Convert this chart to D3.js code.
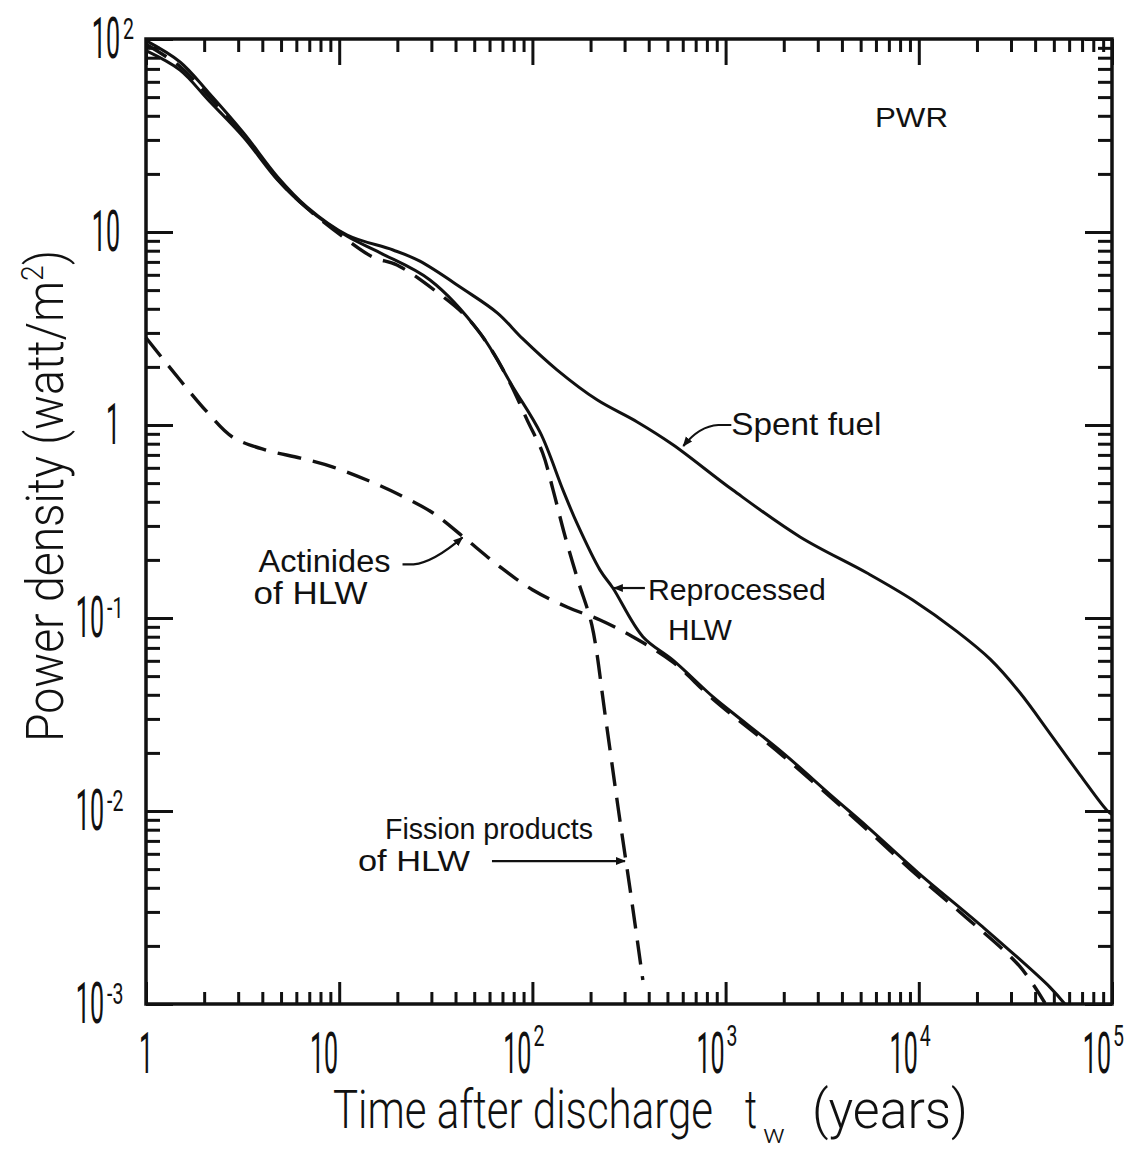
<!DOCTYPE html>
<html>
<head>
<meta charset="utf-8">
<script src="https://cdn.jsdelivr.net/npm/d3@7/dist/d3.min.js"></script>
<style>
	html, body { margin: 0; padding: 0; background: #fff; }
	svg { display: block; }
	text { font-family: 'Liberation Sans', Arial, sans-serif; fill: #111; }
	text.lettering { font-family: Roboto, 'Liberation Sans', sans-serif; font-weight: 300; }
	text.digits { font-family: Roboto, 'Liberation Sans', sans-serif; font-weight: 400; }
</style>
</head>
<body>
<svg id="chart" width="1126" height="1151"></svg>
<script>
// values: time after discharge (years) -> power density (watt/m2)
var spentT = [ 1, 1.5, 2.1, 3.2, 4.8, 6.8, 11, 19, 26, 44, 66, 89, 134, 216, 347, 534, 1090, 2430, 5400, 9300, 15800, 23400, 33400, 47800, 68300, 94000, 100000 ];
var spentP = [ 98, 76, 53, 32.6, 19.3, 13.5, 9.65, 8.07, 7.08, 5.05, 3.8, 2.8, 1.93, 1.35, 1.04, 0.79, 0.46, 0.263, 0.171, 0.124, 0.085, 0.0612, 0.041, 0.0252, 0.0154, 0.0101, 0.0096 ];

var hlwT = [ 1, 1.5, 2.1, 3.2, 4.8, 6.8, 11, 16.3, 29.5, 53.5, 79.4, 110, 144, 170, 224, 261, 373, 534, 861, 1090, 1980, 3600, 5400, 9900, 21500, 47800, 57000 ];
var hlwP = [ 87, 69, 48.3, 31, 18.6, 13.3, 9.5, 7.8, 5.64, 3.0, 1.57, 0.91, 0.46, 0.31, 0.177, 0.143, 0.08, 0.0605, 0.039, 0.0322, 0.02, 0.0118, 0.0083, 0.0048, 0.0025, 0.00122, 0.001 ];

var actT = [ 1, 1.5, 2.1, 2.8, 4.2, 6.3, 9.3, 13.9, 20.6, 30.6, 45.8, 68, 100, 151, 224, 332, 534, 861, 1980, 5400, 9900, 16300, 33400, 45000 ];
var actP = [ 2.83, 1.71, 1.15, 0.867, 0.74, 0.674, 0.605, 0.519, 0.434, 0.35, 0.254, 0.184, 0.14, 0.114, 0.0977, 0.0798, 0.059, 0.038, 0.0193, 0.008, 0.0046, 0.003, 0.00156, 0.00101 ];

var fpT = [ 1, 1.5, 2.1, 3.2, 4.8, 6.8, 11, 15, 19.9, 32, 45.6, 60, 76.6, 94, 113, 128, 147, 172, 203, 238, 277, 324, 373 ];
var fpP = [ 94, 72, 50.7, 31.8, 18.8, 13.3, 9.1, 7.4, 6.75, 4.89, 3.63, 2.54, 1.65, 1.06, 0.716, 0.46, 0.269, 0.157, 0.092, 0.0314, 0.0106, 0.00363, 0.00133 ];

// tick labels
var xTickVals = [ 1, 10, 100, 1000, 10000, 100000 ];
var xTickBase = [ '1', '10', '10', '10', '10', '10' ];
var xTickExp  = [ '', '', '2', '3', '4', '5' ];
var yTickVals = [ 100, 10, 1, 0.1, 0.01, 0.001 ];
var yTickBase = [ '10', '10', '1', '10', '10', '10' ];
var yTickExp  = [ '2', '', '', '-1', '-2', '-3' ];

var plotL = 146, plotR = 1112, plotT = 39, plotB = 1004;

var svg = d3.select( '#chart' );

var x = d3.scaleLog().domain( [ 1, 1e5 ] ).range( [ plotL, plotR ] );
var y = d3.scaleLog().domain( [ 1e-3, 1e2 ] ).range( [ plotB, plotT ] );

function minorTicks( lo, hi ) {
	var out = [];
	for ( var e = lo; e < hi; e ++ ) {
		for ( var k = 2; k <= 9; k ++ ) out.push( +( k * Math.pow( 10, e ) ).toPrecision( 3 ) );
	}
	return out;
}

function tickAxis( axis, vals, len, tr ) {
	var g = svg.append( 'g' )
		.attr( 'transform', tr )
		.call( axis.tickValues( vals ).tickSize( -len ).tickFormat( '' ) );
	g.select( '.domain' ).remove();
	g.selectAll( 'line' ).attr( 'stroke', '#111' ).attr( 'stroke-width', 3 );
}

var xMinor = minorTicks( 0, 5 ), yMinor = minorTicks( -3, 2 );

tickAxis( d3.axisBottom( x ), xMinor, 12, 'translate(0,' + plotB + ')' );
tickAxis( d3.axisBottom( x ), xTickVals, 22, 'translate(0,' + plotB + ')' );
tickAxis( d3.axisTop( x ), xMinor, 13, 'translate(0,' + plotT + ')' );
tickAxis( d3.axisTop( x ), xTickVals, 26, 'translate(0,' + plotT + ')' );
tickAxis( d3.axisLeft( y ), yMinor, 14, 'translate(' + plotL + ',0)' );
tickAxis( d3.axisLeft( y ), yTickVals, 27, 'translate(' + plotL + ',0)' );
tickAxis( d3.axisRight( y ), yMinor, 14, 'translate(' + plotR + ',0)' );
tickAxis( d3.axisRight( y ), yTickVals, 27, 'translate(' + plotR + ',0)' );

svg.append( 'rect' )
	.attr( 'x', plotL ).attr( 'y', plotT )
	.attr( 'width', plotR - plotL ).attr( 'height', plotB - plotT )
	.attr( 'fill', 'none' ).attr( 'stroke', '#111' ).attr( 'stroke-width', 3.5 );

// curves
var line = d3.line()
	.x( function( d ) { return x( d[ 0 ] ); } )
	.y( function( d ) { return y( d[ 1 ] ); } )
	.curve( d3.curveCatmullRom.alpha( 0.5 ) );

function series( ts, ps, dashed ) {
	var pts = ts.map( function( t, i ) { return [ t, ps[ i ] ]; } );
	svg.append( 'path' )
		.attr( 'd', line( pts ) )
		.attr( 'fill', 'none' )
		.attr( 'stroke', '#111' )
		.attr( 'stroke-width', dashed ? 3.4 : 3 )
		.attr( 'stroke-dasharray', dashed ? '24,12' : null )
		.attr( 'stroke-linejoin', 'round' );
}

series( spentT, spentP, false );
series( hlwT, hlwP, false );
series( actT, actP, true );
series( fpT, fpP, true );

// tick labels (narrow hand lettering)
function sciLabel( px, py, base, exp, anchor, ex, ey ) {
	svg.append( 'text' )
		.attr( 'class', 'digits' )
		.attr( 'transform', 'translate(' + px + ',' + py + ') scale(0.44,1)' )
		.attr( 'text-anchor', anchor )
		.attr( 'font-size', 57 )
		.text( base );
	if ( exp ) {
		svg.append( 'text' )
			.attr( 'class', 'digits' )
			.attr( 'transform', 'translate(' + ex + ',' + ey + ') scale(0.65,1)' )
			.attr( 'font-size', 30 )
			.text( exp );
	}
}

xTickVals.forEach( function( v, i ) {
	var px = x( v );
	if ( xTickBase[ i ] == '1' ) sciLabel( px, 1073, '1', '', 'middle' );
	else sciLabel( px - 1, 1073, xTickBase[ i ], xTickExp[ i ], 'end', px + 1, 1046 );
} );

yTickVals.forEach( function( v, i ) {
	var py = y( v );
	var bx = yTickExp[ i ].charAt( 0 ) == '-' ? 104 : 120;
	sciLabel( bx, py + 19, yTickBase[ i ], yTickExp[ i ], 'end', bx + 3, py );
} );

// axis titles
function title( px, py, size, len, str ) {
	return svg.append( 'text' )
		.attr( 'class', 'lettering' )
		.attr( 'x', px ).attr( 'y', py )
		.attr( 'font-size', size )
		.attr( 'textLength', len ).attr( 'lengthAdjust', 'spacingAndGlyphs' )
		.text( str );
}
title( 333, 1128, 54, 380, 'Time after discharge' );
title( 745, 1128, 54, 12, 't' );
title( 763, 1143, 26, 22, 'w' );
title( 812, 1128, 54, 156, '(years)' );

var yt = svg.append( 'text' )
	.attr( 'class', 'lettering' )
	.attr( 'transform', 'translate(63,742) rotate(-90)' )
	.attr( 'font-size', 52 )
	.attr( 'textLength', 492 ).attr( 'lengthAdjust', 'spacingAndGlyphs' );
yt.append( 'tspan' ).text( 'Power density (watt/m' );
yt.append( 'tspan' ).attr( 'dy', -20 ).attr( 'font-size', 32 ).text( '2' );
yt.append( 'tspan' ).attr( 'dy', 20 ).text( ')' );

// annotations
svg.append( 'defs' ).append( 'marker' )
	.attr( 'id', 'head' )
	.attr( 'viewBox', '0 0 10 10' )
	.attr( 'refX', 9 ).attr( 'refY', 5 )
	.attr( 'markerWidth', 10 ).attr( 'markerHeight', 10 )
	.attr( 'markerUnits', 'userSpaceOnUse' )
	.attr( 'orient', 'auto' )
	.append( 'path' ).attr( 'd', 'M0,1 L10,5 L0,9 Z' ).attr( 'fill', '#111' );

function label( px, py, size, len, str ) {
	svg.append( 'text' )
		.attr( 'x', px ).attr( 'y', py )
		.attr( 'font-size', size )
		.attr( 'textLength', len ).attr( 'lengthAdjust', 'spacingAndGlyphs' )
		.text( str );
}

function arrow( d ) {
	svg.append( 'path' )
		.attr( 'd', d )
		.attr( 'fill', 'none' )
		.attr( 'stroke', '#111' )
		.attr( 'stroke-width', 2.2 )
		.attr( 'marker-end', 'url(#head)' );
}

label( 875, 127, 28, 73, 'PWR' );

// spent fuel
var sx = x( 590 ), sy = y( 0.76 );
label( sx + 50, sy - 13, 32, 150, 'Spent  fuel' );
arrow( 'M' + ( sx + 50 ) + ',' + ( sy - 23 ) + ' H' + ( sx + 37 ) + ' Q' + ( sx + 18 ) + ',' + ( sy - 22 ) + ' ' + ( sx + 2 ) + ',' + ( sy - 2 ) );

// reprocessed HLW
var rx = x( 261 ), ry = y( 0.143 );
label( rx + 35, ry + 12, 29, 178, 'Reprocessed' );
label( rx + 55, ry + 52, 29, 64, 'HLW' );
arrow( 'M' + ( rx + 32 ) + ',' + ry + ' H' + ( rx + 1 ) );

// actinides of HLW
var ax = x( 44 ), ay = y( 0.265 );
label( ax - 205, ay + 36, 31, 132, 'Actinides' );
label( ax - 210, ay + 68, 31, 114, 'of  HLW' );
arrow( 'M' + ( ax - 61 ) + ',' + ( ay + 28 ) + ' H' + ( ax - 50 ) + ' Q' + ( ax - 30 ) + ',' + ( ay + 26 ) + ' ' + ( ax - 1 ) + ',' + ( ay + 1 ) );

// fission products of HLW
var fx = x( 305 ), fy = y( 0.0055 );
label( fx - 241, fy - 22, 30, 208, 'Fission  products' );
label( fx - 268, fy + 10, 30, 112, 'of  HLW' );
arrow( 'M' + ( fx - 134 ) + ',' + fy + ' H' + ( fx - 1 ) );
</script>
</body>
</html>
